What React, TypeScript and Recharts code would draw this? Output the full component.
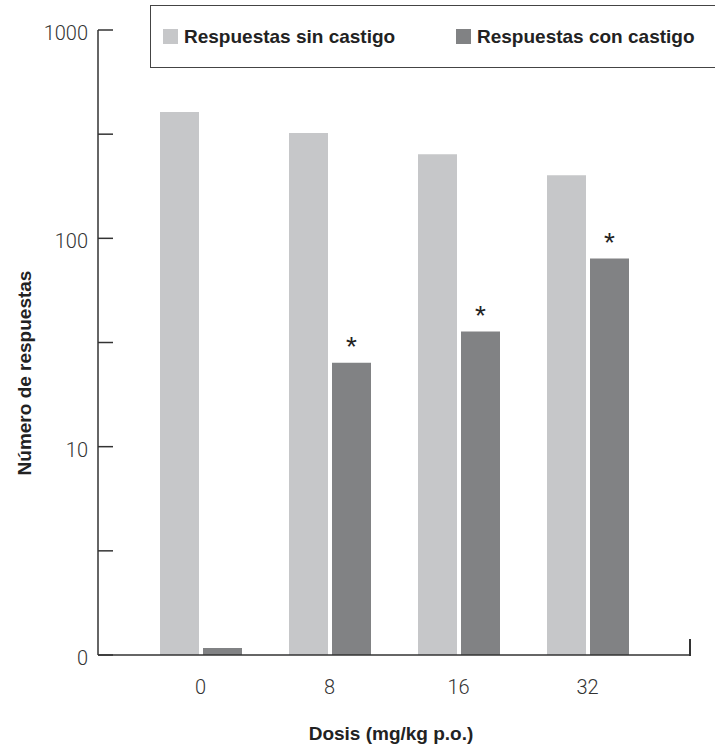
import React from "react";
import { BarChart, Bar, XAxis, YAxis, LabelList } from "recharts";

const categories = ["0", "8", "16", "32"];
const sinCastigo = [404, 320, 253, 201];
const conCastigo = [1.08, 25.3, 35.7, 80];
const significant = [false, true, true, true];
const yTicks = [1, 3.162, 10, 31.62, 100, 316.2, 1000];
const yTickLabels: Record<string, string> = { "1": "0", "10": "10", "100": "100", "1000": "1000" };
const seriesNames = ["Respuestas sin castigo", "Respuestas con castigo"];

const data = categories.map((c, i) => ({
  dose: c,
  sin: sinCastigo[i],
  con: conCastigo[i],
  sig: significant[i],
}));

const LIGHT = "#c6c7c9";
const DARK = "#818284";
const seriesColors = [LIGHT, DARK];
const AXIS = "#333333";
const LIGHT_FONT = "Roboto, 'Liberation Sans', Arial, sans-serif";
const BOLD_FONT = "'Liberation Sans', Arial, Helvetica, sans-serif";

const YTick = (props: any) => {
  const { x, y, payload } = props;
  const label = yTickLabels[String(payload.value)];
  return (
    <g>
      <line x1={x + 10} x2={x + 25} y1={y} y2={y} stroke={AXIS} strokeWidth={1.5} />
      {label !== undefined && (
        <text
          x={x}
          y={y}
          dy={10}
          textAnchor="end"
          fontSize={20}
          fontFamily={LIGHT_FONT}
          fontWeight={300}
          fill="#333"
        >
          {label}
        </text>
      )}
    </g>
  );
};

const Star = (props: any) => {
  const { x, y, width, index } = props;
  if (!significant[index]) return null;
  return (
    <text
      x={x + width / 2}
      y={y - 7}
      textAnchor="middle"
      fontSize={28}
      fontFamily={BOLD_FONT}
      fill="#222"
    >
      *
    </text>
  );
};

const YLabel = () => (
  <text
    x={0}
    y={0}
    transform="translate(31,373) rotate(-90)"
    textAnchor="middle"
    fontSize={19}
    fontWeight={700}
    fontFamily={BOLD_FONT}
    fill="#222"
  >
    Número de respuestas
  </text>
);

const XLabel = () => (
  <text
    x={391}
    y={740}
    textAnchor="middle"
    fontSize={19}
    fontWeight={700}
    fontFamily={BOLD_FONT}
    fill="#222"
  >
    Dosis (mg/kg p.o.)
  </text>
);

const LegendBox = () => (
  <div
    style={{
      position: "absolute",
      left: 150,
      top: 5,
      boxSizing: "border-box",
      width: 600,
      height: 63,
      border: "1.5px solid #444",
      paddingLeft: 12,
      display: "flex",
      alignItems: "center",
      background: "#fff",
    }}
  >
    {seriesNames.map((name, i) => (
      <div key={name} style={{ width: 300, display: "flex", alignItems: "center" }}>
        <span
          style={{
            display: "inline-block",
            width: 15,
            height: 15,
            background: seriesColors[i],
            marginRight: 6,
          }}
        />
        <span
          style={{
            fontFamily: BOLD_FONT,
            fontWeight: 700,
            fontSize: 19,
            color: "#222",
            whiteSpace: "nowrap",
          }}
        >
          {name}
        </span>
      </div>
    ))}
  </div>
);

export default function App() {
  return (
    <div
      style={{
        position: "absolute",
        left: 0,
        top: 0,
        width: 715,
        height: 747,
        overflow: "hidden",
        background: "#fff",
      }}
    >
      <BarChart
        width={715}
        height={747}
        data={data}
        margin={{ top: 30, right: 25, bottom: 42, left: 38 }}
        barSize={39}
        barGap={4}
      >
        <XAxis
          dataKey="dose"
          padding={{ left: 38, right: 38 }}
          height={50}
          tickLine={false}
          tickSize={0}
          tickMargin={25}
          axisLine={{ stroke: AXIS, strokeWidth: 1.5 }}
          tick={{ fontSize: 20, fill: "#333", fontFamily: LIGHT_FONT, fontWeight: 300 }}
          label={<XLabel />}
        />
        <YAxis
          scale="log"
          domain={[1, 1000]}
          ticks={yTicks}
          allowDataOverflow
          width={60}
          tickLine={false}
          tickSize={0}
          tickMargin={10}
          axisLine={{ stroke: AXIS, strokeWidth: 1.5 }}
          tick={<YTick />}
          interval={0}
          label={<YLabel />}
        />
        <Bar dataKey="sin" name={seriesNames[0]} fill={LIGHT} isAnimationActive={false} />
        <Bar dataKey="con" name={seriesNames[1]} fill={DARK} isAnimationActive={false}>
          <LabelList dataKey="con" content={<Star />} />
        </Bar>
      </BarChart>
      <LegendBox />
      <div
        style={{
          position: "absolute",
          left: 689,
          top: 639,
          width: 1.5,
          height: 16.5,
          background: AXIS,
        }}
      />
    </div>
  );
}
